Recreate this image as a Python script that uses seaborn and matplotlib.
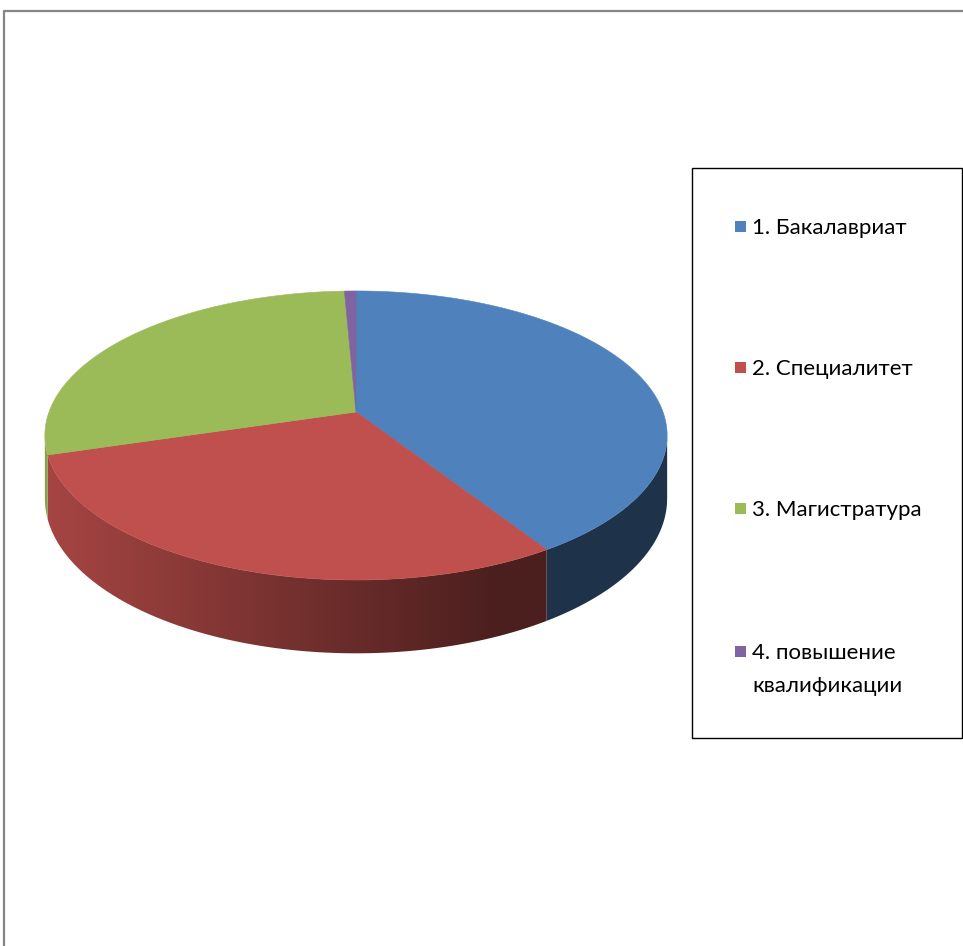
import numpy as np
import matplotlib
matplotlib.use("Agg")
import matplotlib.pyplot as plt
from matplotlib.patches import Polygon, Rectangle
import seaborn as sns

# Study programmes and their shares (%)
labels = ["1. Бакалавриат", "2. Специалитет", "3. Магистратура", "4. повышение\nквалификации"]
values = [41.0, 29.3, 29.0, 0.7]
colors = ["#4f81bd", "#c0504d", "#9bbb59", "#8064a2"]

sns.set_theme(style="white")
plt.rcParams["font.family"] = ["Lato", "DejaVu Sans"]

W, H = 963, 946
fig = plt.figure(figsize=(W / 100, H / 100), dpi=100)
ax = fig.add_axes([0, 0, 1, 1])
ax.set_xlim(0, W)
ax.set_ylim(H, 0)
ax.axis("off")

# perspective projection of the pie disc (pixel space)
CX, CY = 356.0, 412.0
A, B = 307.0, 140.7
PERSP = 0.1625
DEPTH = 61.4


def project(theta_deg, r=1.0, z=0.0):
    th = np.radians(theta_deg)
    u = r * np.sin(th)
    v = -r * np.cos(th)
    w = 1.0 - PERSP * v
    return CX + A * u / w, CY + B * v / w + DEPTH * z / w


def shade_factor(x):
    return np.clip(0.85 - 0.00105 * (x - 60.0), 0.39, 1.0)


fracs = np.array(values) / np.sum(values)
bounds = np.concatenate([[0.0], np.cumsum(fracs) * 360.0])

# visible side wall spans the front half between the silhouette extremes
vis_lo = np.degrees(np.arccos(-PERSP))
vis_hi = 360.0 - vis_lo

xs_grad = np.arange(0, W + 1)
for i, col in enumerate(colors):
    t0, t1 = max(bounds[i], vis_lo), min(bounds[i + 1], vis_hi)
    if t1 <= t0:
        continue
    ts = np.linspace(t0, t1, max(3, int((t1 - t0) / 0.5)))
    top = [project(t) for t in ts]
    bot = [project(t, z=1) for t in ts[::-1]]
    wall = Polygon(top + bot, closed=True, facecolor="none", edgecolor="none", zorder=2)
    ax.add_patch(wall)
    rgb = np.array(matplotlib.colors.to_rgb(col))
    grad = (shade_factor(xs_grad)[:, None] * rgb[None, :])[None, :, :]
    im = ax.imshow(grad, extent=(0, W, 700, 400), aspect="auto",
                   interpolation="bilinear", zorder=2)
    im.set_clip_path(wall)

# top faces
for i, col in enumerate(colors):
    ts = np.linspace(bounds[i], bounds[i + 1], max(4, int((bounds[i + 1] - bounds[i]) / 0.5)))
    pts = [project(0, r=0.0)] + [project(t) for t in ts]
    ax.add_patch(Polygon(pts, closed=True, facecolor=col, edgecolor=col,
                         linewidth=0.4, zorder=3))

ax.set_xlim(0, W)
ax.set_ylim(H, 0)

# chart-area frame
ax.plot([4, 4, W], [H, 11, 11], color="#868686", linewidth=1.6,
        solid_capstyle="butt", zorder=5)

# legend
ax.add_patch(Rectangle((691.5, 168.5), 270, 569, facecolor="white",
                       edgecolor="black", linewidth=1.0, zorder=4))
item_y = [226, 367, 508, 651]
line_step = 33
for lab, col, y in zip(labels, colors, item_y):
    ax.add_patch(Rectangle((735, y - 5.5), 11, 11, facecolor=col,
                           edgecolor="none", zorder=5))
    for k, line in enumerate(lab.split("\n")):
        ax.text(752, y + 7.5 + k * line_step, line, ha="left", va="baseline",
                fontsize=16, color="#000000", zorder=5)

fig.savefig("out.png", dpi=100, facecolor="white")
